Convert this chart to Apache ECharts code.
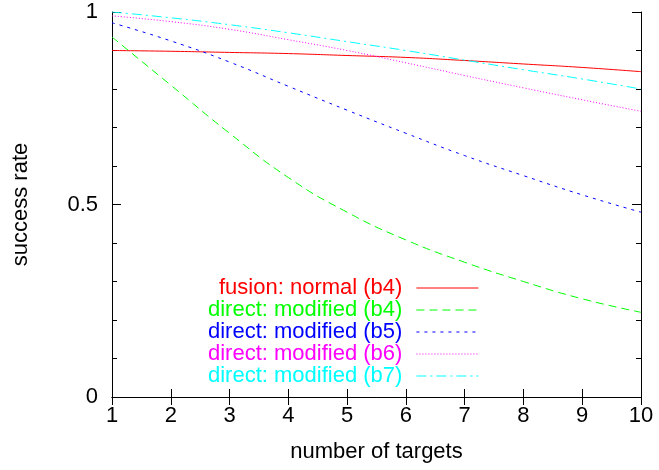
<!DOCTYPE html>
<html>
<head>
<meta charset="utf-8">
<script src="https://cdn.jsdelivr.net/npm/echarts@6/dist/echarts.min.js"></script>
<style>html,body{margin:0;padding:0;background:#fff}#c{width:659px;height:470px}</style>
</head>
<body>
<div id="c"></div>
<script>
const targets = [1, 2, 3, 4, 5, 6, 7, 8, 9, 10];
const fusionB4 = [0.900, 0.898, 0.895, 0.892, 0.887, 0.882, 0.874, 0.865, 0.856, 0.845];
const directB4 = [0.935, 0.810, 0.685, 0.570, 0.480, 0.408, 0.350, 0.300, 0.255, 0.220];
const directB5 = [0.972, 0.925, 0.870, 0.807, 0.745, 0.685, 0.627, 0.575, 0.525, 0.480];
const directB6 = [0.990, 0.975, 0.955, 0.928, 0.900, 0.868, 0.835, 0.803, 0.772, 0.742];
const directB7 = [1.000, 0.985, 0.967, 0.946, 0.923, 0.900, 0.875, 0.850, 0.826, 0.800];
const yTickLabels = {"0": "0", "0.5": "0.5", "1": "1"};

const seriesDefs = [
  {name: 'fusion: normal (b4)', data: fusionB4, color: '#ff0000', type: 'solid'},
  {name: 'direct: modified (b4)', data: directB4, color: '#00ff00', type: [8, 5]},
  {name: 'direct: modified (b5)', data: directB5, color: '#0000ff', type: [3, 5]},
  {name: 'direct: modified (b6)', data: directB6, color: '#ff00ff', type: [1, 2]},
  {name: 'direct: modified (b7)', data: directB7, color: '#00ffff', type: [10, 4, 2, 4]}
];

const font = 'Liberation Sans, Arial, sans-serif';
const fs = 22;
const chart = echarts.init(document.getElementById('c'), null, {renderer: 'canvas'});
chart.setOption({
  animation: false,
  backgroundColor: '#fff',
  grid: {left: 112, right: 18, top: 12, bottom: 73, show: false},
  legend: {
    orient: 'vertical',
    left: 208, top: 277, padding: 0,
    align: 'right',
    itemWidth: 62, itemHeight: 14, itemGap: 0,
    selectedMode: false,
    itemStyle: {opacity: 0},
    lineStyle: {width: 1},
    data: seriesDefs.map(s => ({name: s.name, textStyle: {color: s.color}})),
    textStyle: {fontFamily: font, fontSize: fs, lineHeight: 21, padding: [0, 9, 0, 0]}
  },
  xAxis: [{
    type: 'value', min: 1, max: 10, interval: 1, position: 'bottom',
    name: 'number of targets', nameLocation: 'middle', nameGap: 44,
    nameTextStyle: {fontFamily: font, fontSize: fs, color: '#000'},
    axisLine: {lineStyle: {color: '#000', width: 1}},
    axisTick: {inside: true, length: 8, lineStyle: {color: '#000'}},
    axisLabel: {fontFamily: font, fontSize: fs, color: '#000', margin: 8},
    splitLine: {show: false}
  }, {
    type: 'value', min: 1, max: 10, interval: 1, position: 'top',
    axisLine: {show: true, lineStyle: {color: '#000', width: 1}},
    axisTick: {inside: true, length: 8, lineStyle: {color: '#000'}},
    axisLabel: {show: false}, splitLine: {show: false}
  }],
  yAxis: [{
    type: 'value', min: 0, max: 1, interval: 0.5, position: 'left',
    name: 'success rate', nameLocation: 'middle', nameGap: 80, nameRotate: 90,
    nameTextStyle: {fontFamily: font, fontSize: fs, color: '#000'},
    axisLine: {show: true, lineStyle: {color: '#000', width: 1}},
    axisTick: {inside: true, length: 9, lineStyle: {color: '#000'}},
    minorTick: {show: true, splitNumber: 5, length: 5, lineStyle: {color: '#000'}},
    axisLabel: {fontFamily: font, fontSize: fs, color: '#000', margin: 14,
      formatter: v => yTickLabels[String(v)] ?? ''},
    splitLine: {show: false}
  }, {
    type: 'value', min: 0, max: 1, interval: 0.5, position: 'right',
    axisLine: {show: true, lineStyle: {color: '#000', width: 1}},
    axisTick: {inside: true, length: 9, lineStyle: {color: '#000'}},
    minorTick: {show: true, splitNumber: 5, length: 5, lineStyle: {color: '#000'}},
    axisLabel: {show: false}, splitLine: {show: false}
  }],
  series: seriesDefs.map(s => ({
    name: s.name, type: 'line', smooth: true, symbol: 'none',
    color: s.color,
    lineStyle: {color: s.color, width: 1, type: s.type},
    data: targets.map((x, i) => [x, s.data[i]])
  }))
});
</script>
</body>
</html>
